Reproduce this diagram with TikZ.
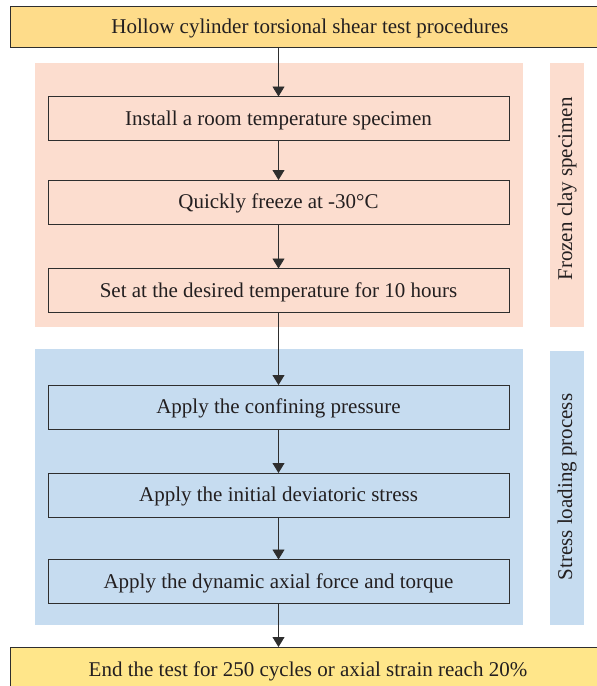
\documentclass[tikz,border=0pt]{standalone}
\usepackage{fontspec}
\setmainfont{Liberation Serif}
\usetikzlibrary{arrows.meta}
\definecolor{headfill}{HTML}{FEDC8A}
\definecolor{endfill}{HTML}{FFE68A}
\definecolor{salmon}{HTML}{FCDDCF}
\definecolor{paleblue}{HTML}{C6DCF0}
\definecolor{edge}{HTML}{2E2E2E}
\definecolor{ink}{HTML}{231F20}
\tikzset{
  txt/.style={text=ink, font=\fontsize{21}{24}\selectfont},
  stepbox/.style={txt, draw=edge, line width=0.9pt, minimum width=461pt, minimum height=44pt,
    inner sep=0pt, outer sep=0pt, text depth=1.5pt},
  bigbox/.style={txt, draw=edge, line width=0.9pt, minimum width=600pt, minimum height=41pt,
    inner sep=0pt, outer sep=0pt, text depth=1.5pt},
  sidelabel/.style={txt, rotate=90},
  flow/.style={draw=edge, line width=0.9pt, -{Triangle[length=10pt,width=12pt]}}
}
\begin{document}
\begin{tikzpicture}[x=1pt,y=-1pt]
\useasboundingbox (0,0) rectangle (597,686);
\clip (0,0) rectangle (597,686);
% panels
\fill[salmon] (35,63) rectangle (523,327);
\fill[salmon] (550,63) rectangle (584,327);
\fill[paleblue] (35,349) rectangle (523,625);
\fill[paleblue] (550,351) rectangle (584,625);
\node[sidelabel] (lab1) at (567,189) {Frozen clay specimen};
\node[sidelabel] (lab2) at (567,487) {Stress loading process};
% top and bottom boxes
\node[bigbox, fill=headfill] (top) at (310,26.5) {Hollow cylinder torsional shear test procedures};
\node[bigbox, fill=endfill, minimum height=60pt] (end) at (310,677) {};
\node[txt] (endtxt) at (308,671) {End the test for 250 cycles or axial strain reach 20\%};
% steps
\node[stepbox] (s1) at (278.5,118.5) {Install a room temperature specimen};
\node[stepbox] (s2) at (278.5,202) {Quickly freeze at -30°C};
\node[stepbox] (s3) at (278.5,290.5) {Set at the desired temperature for 10 hours};
\node[stepbox] (s4) at (278.5,407) {Apply the confining pressure};
\node[stepbox] (s5) at (278.5,495) {Apply the initial deviatoric stress};
\node[stepbox] (s6) at (278.5,581.5) {Apply the dynamic axial force and torque};
% connectors
\draw[flow] (top.south -| s1.north) -- (s1.north);
\draw[flow] (s1) -- (s2);
\draw[flow] (s2) -- (s3);
\draw[flow] (s3) -- (s4);
\draw[flow] (s4) -- (s5);
\draw[flow] (s5) -- (s6);
\draw[flow] (s6.south) -- (s6.south |- end.north);
\end{tikzpicture}
\end{document}
